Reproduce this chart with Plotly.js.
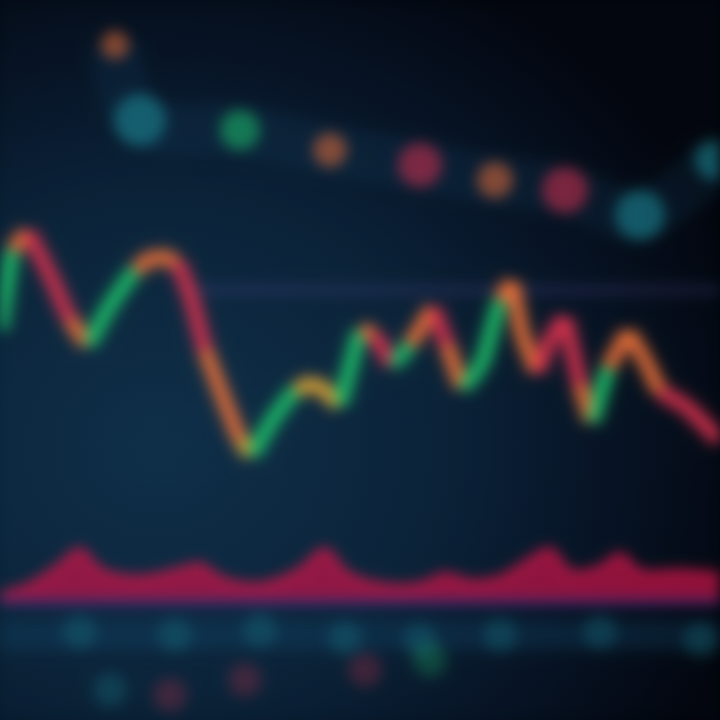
<!DOCTYPE html>
<html>
<head>
<meta charset="utf-8">
<script src="https://cdn.plot.ly/plotly-3.0.1.min.js"></script>
<style>
html,body{margin:0;padding:0;width:720px;height:720px;overflow:hidden;
background: radial-gradient(ellipse 85% 75% at 22% 62%, #0e2e47 0%, #0a2237 45%, #061323 72%, #02050c 100%);}
#chart{width:720px;height:720px;filter:blur(7px);}
</style>
</head>
<body>
<div id="chart"></div>
<script>
// ---- price line (time index, price) ----
const priceX = [0,1.2,2.8,5.0,7.0,8.8,11.0,13.5,15.5,17.8,19.2,20.5,22.2,24.0,25.2,27.2,29.5,31.5,34.0,36.0,37.5,39.2,41.0,43.3,44.7,46.2,48.2,50.0,51.2,52.2,53.7,55.2,56.5,58.0,59.2,60.8,62.8,64.5,66.0,68.5,72.0];
const priceY = [39.0,47.0,48.8,44.5,40.0,37.5,41.5,45.0,46.5,45.8,42.0,37.0,32.5,28.0,26.5,30.0,33.0,33.8,31.5,39.0,38.5,35.5,37.5,41.2,37.5,33.2,35.5,42.0,43.8,38.5,34.8,38.5,40.2,33.5,29.8,35.2,38.8,36.0,32.8,31.5,28.0];
const segColor = ["up","down","fall","fall","down","up","up","down","down","fall","fall","down","down","flat","up","up","flat","flat","up","down","fall","up","down","fall","down","up","up","down","down","down","fall","fall","fall","down","up","down","down","down","fall","fall"];

// ---- moving-average band markers (top) ----
const maX = [11.5,14.0,24.0,33.0,42.0,49.5,56.5,64.0,71.5];
const maY = [67.5,60.0,59.0,57.0,55.5,54.0,53.0,50.5,56.0];
const maKind = ["down","avg","up","down","fall","down","fall","avg","avg"];

// ---- resistance level ----
const levelX = [19,72];
const levelY = [43.0,43.0];

// ---- volume (top edge of area) ----
const volX = [0,3,6,8,10,14,18,20,22,26,30,32.5,34.5,38,42,44.5,47,50,53,55,57,60,62,64,68,72];
const volY = [12.5,13.5,15.5,17.0,15.0,14.2,15.0,15.5,14.2,13.5,15.0,17.0,14.8,13.5,13.5,14.5,13.8,14.2,16.0,17.0,14.8,15.2,16.5,14.8,14.8,14.5];
const volBase = 11.8;

// ---- lower indicator blobs ----
const lowX = [8,17.5,26,34.5,42,50,60,70, 11,17,24.5,36.5,43];
const lowY = [8.8,8.5,9.0,8.2,8.0,8.5,8.8,8.0, 3.0,2.5,4.0,5.0,6.0];
const lowKind = ["avg","avg","avg","avg","avg","avg","avg","avg","avg","fall","fall","fall","up"];

const palette = {
  up:"#1fc06a", down:"#e8703a", fall:"#d8324e", flat:"#d9a236", avg:"#1f8f9a"
};

const traces = [];

// background MA band haze
traces.push({x:maX,y:maY,mode:"lines",line:{color:"rgba(20,70,110,0.18)",width:50,shape:"spline"},hoverinfo:"skip"});

// resistance level
traces.push({x:levelX,y:levelY,mode:"lines",line:{color:"rgba(90,80,160,0.28)",width:8},hoverinfo:"skip"});

// lower haze band
traces.push({x:[0,72],y:[8.5,8.5],mode:"lines",line:{color:"rgba(20,80,120,0.25)",width:30},hoverinfo:"skip"});

// volume area
traces.push({x:[volX[0],volX[volX.length-1]],y:[volBase,volBase],mode:"lines",line:{color:"rgba(70,50,140,0.55)",width:8},hoverinfo:"skip"});
traces.push({x:volX,y:volY,mode:"lines",fill:"tonexty",fillcolor:"rgba(195,20,70,0.72)",line:{color:"rgba(220,25,75,0.85)",width:5,shape:"spline"},hoverinfo:"skip"});

// price line with glow, per segment
const layers = [{w:26,a:0.18},{w:16,a:0.4},{w:10,a:0.95}];
layers.forEach(L=>{
  for(let i=0;i<priceX.length-1;i++){
    traces.push({x:[priceX[i],priceX[i+1]],y:[priceY[i],priceY[i+1]],mode:"lines",
      line:{color:palette[segColor[i]],width:L.w},opacity:L.a,hoverinfo:"skip"});
  }
});

// MA markers
traces.push({x:maX,y:maY,mode:"markers",marker:{size:maX.map((v,i)=>[28,52,40,34,44,36,46,50,40][i]),
  color:maKind.map(k=>palette[k]),opacity:0.55,line:{width:0}},hoverinfo:"skip"});

// lower blobs
traces.push({x:lowX,y:lowY,mode:"markers",marker:{size:34,color:lowKind.map(k=>palette[k]),opacity:0.25,line:{width:0}},hoverinfo:"skip"});

const axisCommon = {showticklabels:false,zeroline:false,showline:false,ticks:"",
  showgrid:true,gridcolor:"rgba(70,140,180,0.12)",gridwidth:1,fixedrange:true};

Plotly.newPlot("chart",traces,{
  width:720,height:720,
  margin:{l:0,r:0,t:0,b:0},
  paper_bgcolor:"rgba(0,0,0,0)",plot_bgcolor:"rgba(0,0,0,0)",
  showlegend:false,
  xaxis:Object.assign({range:[0,72],dtick:1.2},axisCommon),
  yaxis:Object.assign({range:[0,72],dtick:1.2},axisCommon)
},{staticPlot:true});
</script>
</body>
</html>
